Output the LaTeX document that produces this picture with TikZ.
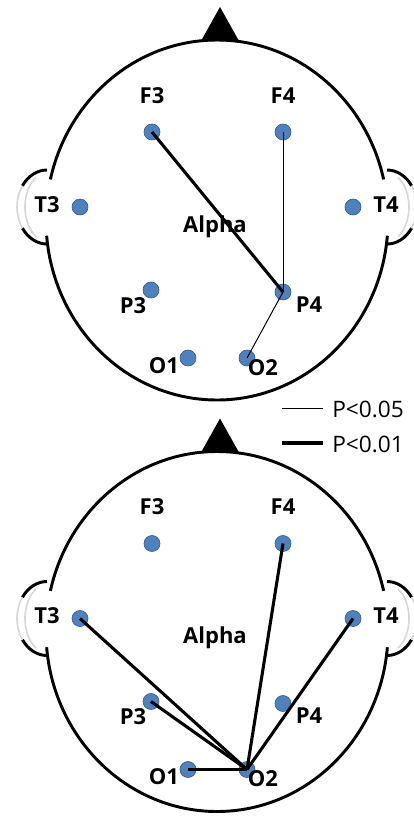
\documentclass[tikz,border=0pt]{standalone}
\usepackage{fontspec}
\setmainfont{Open Sans}
\definecolor{dotblue}{RGB}{79,129,189}
\definecolor{dotedge}{RGB}{56,93,138}
\definecolor{earg}{RGB}{215,215,215}
\tikzset{
  headline/.style={line width=2.2pt},
  elec/.style={circle, fill=dotblue, draw=dotedge, line width=0.5pt, minimum size=12pt, inner sep=0pt},
  lab/.style={anchor=base, font=\fontsize{16.5}{18}\selectfont\bfseries, inner sep=0pt},
  legtext/.style={anchor=base west, font=\fontsize{17}{19}\selectfont, inner sep=0pt},
  thinlink/.style={line width=0.75pt},
  thicklink/.style={line width=2.3pt},
}
\newcommand\eeghead[1]{%
  \fill (201,41) -- (220,7) -- (239,41) -- cycle;
  \draw[headline] (217,220) ellipse[x radius=171, y radius=180];
  % gaps in the outline behind the ears
  \draw[white, line width=3.5pt] (217,220) ++(193:171 and 180) arc[start angle=193, end angle=175, x radius=171, y radius=180];
  \draw[white, line width=3.5pt] (217,220) ++(347:171 and 180) arc[start angle=347, end angle=365, x radius=171, y radius=180];
  % ears
  \draw[headline] (47,170) arc[start angle=270, end angle=215, x radius=30, y radius=37];
  \draw[headline] (47,244) arc[start angle=90, end angle=145, x radius=30, y radius=37];
  \draw[earg, line width=1.2pt] (47,207) ++(215:30 and 37) arc[start angle=215, end angle=145, x radius=30, y radius=37];
  \draw[earg, line width=1.2pt] (47,207) ++(240:22 and 34) arc[start angle=240, end angle=120, x radius=22, y radius=34];
  \draw[headline] (387,170) arc[start angle=270, end angle=325, x radius=30, y radius=37];
  \draw[headline] (387,244) arc[start angle=90, end angle=35, x radius=30, y radius=37];
  \draw[earg, line width=1.2pt] (387,207) ++(325:30 and 37) arc[start angle=325, end angle=395, x radius=30, y radius=37];
  \draw[earg, line width=1.2pt] (387,207) ++(300:22 and 34) arc[start angle=300, end angle=420, x radius=22, y radius=34];
  % electrodes
  \node[elec] (#1F3) at (152,132) {};
  \node[elec] (#1F4) at (283,132) {};
  \node[elec] (#1T3) at (80,207) {};
  \node[elec] (#1T4) at (353,207) {};
  \node[elec] (#1P3) at (151,290) {};
  \node[elec] (#1P4) at (283,292) {};
  \node[elec] (#1O1) at (188,358) {};
  \node[elec] (#1O2) at (247,358) {};
  % labels
  \node[lab] (#1LF3) at (152,103) {F3};
  \node[lab] (#1LF4) at (283,103) {F4};
  \node[lab] (#1LT3) at (47,212) {T3};
  \node[lab] (#1LT4) at (386,212) {T4};
  \node[lab] (#1LP3) at (133,313) {P3};
  \node[lab] (#1LP4) at (309,312) {P4};
  \node[lab] (#1LO1) at (164,373) {O1};
  \node[lab] (#1LO2) at (263,375) {O2};
  \node[lab] (#1Alpha) at (215,232) {Alpha};
}
\begin{document}
\begin{tikzpicture}[x=0.75pt, y=-0.75pt]
  \useasboundingbox (0,0) rectangle (414,818);
  \eeghead{a}
  \draw[thicklink] (aF3.center) -- (aP4.center);
  \draw[thinlink] (aF4.center) -- (aP4.center);
  \draw[thinlink] (aP4.center) -- (aO2.center);
  \begin{scope}[shift={(0,411.5)}]
    \eeghead{b}
  \end{scope}
  \draw[thicklink] (bT3.center) -- (bO2.center);
  \draw[thicklink] (bP3.center) -- (bO2.center);
  \draw[thicklink] (bF4.center) -- (bO2.center);
  \draw[thicklink] (bT4.center) -- (bO2.center);
  \draw[thicklink] (bO1.center) -- (bO2.center);
  % legend
  \coordinate (l1a) at (282,408);
  \coordinate (l1b) at (323,408);
  \coordinate (l2a) at (282,443);
  \coordinate (l2b) at (323,443);
  \draw[thinlink] (l1a) -- (l1b);
  \draw[thicklink] (l2a) -- (l2b);
  \node[legtext] (lt1) at (332,417) {P<0.05};
  \node[legtext] (lt2) at (332,452) {P<0.01};
\end{tikzpicture}
\end{document}
